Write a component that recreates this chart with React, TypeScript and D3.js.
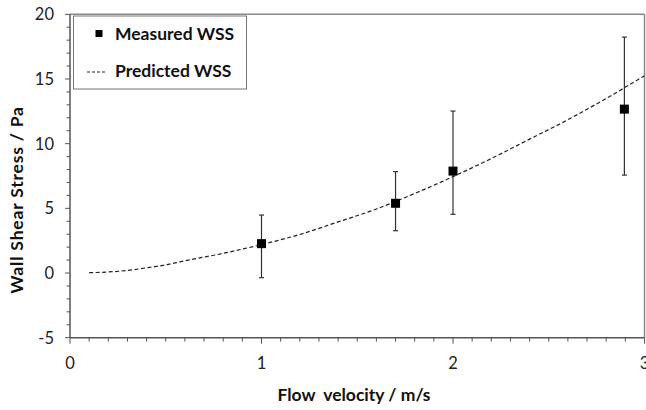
import React from "react";
import * as d3 from "d3";

const measuredX = [1.0, 1.7, 2.0, 2.895];
const measuredY = [2.27, 5.39, 7.88, 12.67];
const errLow = [-0.36, 3.27, 4.54, 7.57];
const errHigh = [4.48, 7.84, 12.52, 18.24];

const predX = [0.1, 0.2, 0.3, 0.4, 0.5, 0.6, 0.7, 0.8, 0.9, 1.0, 1.2, 1.4, 1.6, 1.8, 2.0, 2.2, 2.4, 2.6, 2.8, 3.0];
const predY = [0.03, 0.08, 0.2, 0.4, 0.63, 0.95, 1.23, 1.52, 1.85, 2.2, 2.98, 3.95, 4.95, 6.15, 7.45, 8.85, 10.35, 11.85, 13.5, 15.25];

const xTicks = [0, 1, 2, 3];
const yTicks = [-5, 0, 5, 10, 15, 20];

const W = 646, H = 410;
const L = 70, R = 644.5, T = 14.3, B = 337.7;

export default function App() {
  const x = d3.scaleLinear().domain([0, 3]).range([L, R]);
  const y = d3.scaleLinear().domain([-5, 20]).range([B, T]);
  const line = d3.line<number>().x((_, i) => x(predX[i])).y((d) => y(d)).curve(d3.curveMonotoneX);
  const xMinor = d3.range(0, 31).map((i) => i / 10);
  const yMinor = d3.range(-5, 21);
  const font = "Lato, 'Open Sans', sans-serif";
  return (
    <svg width={W} height={H} style={{ position: "absolute", left: 0, top: 0, background: "#fff" }}>
      <rect x={0} y={0} width={W} height={H} fill="#fff" />
      {/* frame */}
      <line x1={L} x2={R} y1={T} y2={T} stroke="#8a8a8a" strokeWidth={1.5} />
      <line x1={R} x2={R} y1={T} y2={B} stroke="#8a8a8a" strokeWidth={1.5} />
      {/* y axis */}
      <line x1={L} x2={L} y1={T} y2={B} stroke="#555" strokeWidth={1.5} />
      {yMinor.map((v) => (
        <line key={"ym" + v} x1={L - (v % 5 === 0 ? 5 : 3.5)} x2={L} y1={y(v)} y2={y(v)} stroke="#555" strokeWidth={1} />
      ))}
      {yTicks.map((v) => (
        <text key={"yt" + v} x={54} y={y(v)} dy="0.36em" textAnchor="end" fontFamily={font} fontSize={16.5} fill="#222">{v}</text>
      ))}
      {/* x axis */}
      <line x1={L} x2={R} y1={B} y2={B} stroke="#555" strokeWidth={1.5} />
      {xMinor.map((v, i) => (
        <line key={"xm" + i} x1={x(v)} x2={x(v)} y1={B} y2={B + (i % 10 === 0 ? 6 : 4)} stroke="#555" strokeWidth={1} />
      ))}
      {xTicks.map((v) => (
        <text key={"xt" + v} x={x(v)} y={363} dy="0.36em" textAnchor="middle" fontFamily={font} fontSize={16.5} fill="#222">{v}</text>
      ))}
      {/* axis titles */}
      <text x={354} y={401} textAnchor="middle" fontFamily={font} fontWeight="bold" fontSize={17.5} fill="#111" style={{ whiteSpace: "pre" }}>{"Flow  velocity / m/s"}</text>
      <text transform={`translate(23,200) rotate(-90)`} textAnchor="middle" fontFamily={font} fontWeight="bold" fontSize={17.5} letterSpacing={0.8} fill="#111">Wall Shear Stress / Pa</text>
      {/* predicted */}
      <path d={line(predY) || ""} fill="none" stroke="#222" strokeWidth={1.2} strokeDasharray="4,2.5" />
      {/* error bars & markers */}
      {measuredX.map((mx, i) => (
        <g key={"m" + i}>
          <line x1={x(mx)} x2={x(mx)} y1={y(errLow[i])} y2={y(errHigh[i])} stroke="#333" strokeWidth={1.2} />
          <line x1={x(mx) - 2.5} x2={x(mx) + 2.5} y1={y(errLow[i])} y2={y(errLow[i])} stroke="#333" strokeWidth={1.2} />
          <line x1={x(mx) - 2.5} x2={x(mx) + 2.5} y1={y(errHigh[i])} y2={y(errHigh[i])} stroke="#333" strokeWidth={1.2} />
          <rect x={x(mx) - 4.5} y={y(measuredY[i]) - 4.5} width={9} height={9} fill="#000" />
        </g>
      ))}
      {/* legend */}
      <rect x={73.5} y={16} width={173} height={73} fill="#fff" stroke="#777" strokeWidth={1} />
      <rect x={95.5} y={30} width={7} height={7} fill="#000" />
      <text x={115} y={34} dy="0.36em" fontFamily={font} fontWeight="bold" fontSize={17.5} fill="#111">Measured WSS</text>
      <line x1={87} x2={107} y1={72} y2={72} stroke="#222" strokeWidth={1} strokeDasharray="3,2" />
      <text x={115} y={71} dy="0.36em" fontFamily={font} fontWeight="bold" fontSize={17.5} fill="#111">Predicted WSS</text>
    </svg>
  );
}
